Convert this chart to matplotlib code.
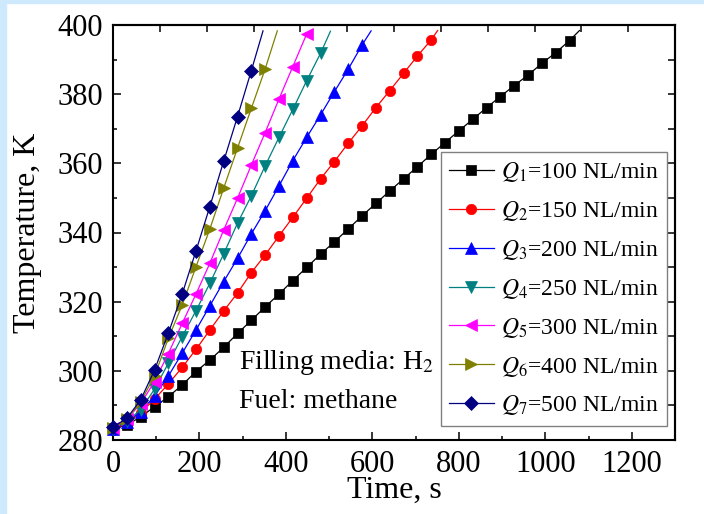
import matplotlib
matplotlib.use("Agg")
import matplotlib.pyplot as plt
from matplotlib.ticker import MultipleLocator, NullFormatter

plt.rcParams['font.family'] = ['Liberation Serif', 'DejaVu Serif']
plt.rcParams['mathtext.fontset'] = 'stix'

# sampling times (s)
time_s = [0, 32, 64, 96, 128, 160, 192, 224, 256, 288, 320, 352, 384, 416, 448,
          480, 512, 544, 576, 608, 640, 672, 704, 736, 768, 800, 832, 864, 896,
          928, 960, 992, 1024, 1056]

labels = ["$Q_1$=100 NL/min", "$Q_2$=150 NL/min", "$Q_3$=200 NL/min",
          "$Q_4$=250 NL/min", "$Q_5$=300 NL/min", "$Q_6$=400 NL/min",
          "$Q_7$=500 NL/min"]

q1 = [283.4, 284.3, 286.7, 289.6, 292.5, 295.9, 299.8, 303.1, 306.8, 310.8, 314.6,
      318.5, 322.2, 326.1, 329.9, 333.7, 337.3, 341.0, 344.8, 348.4, 352.0, 355.5,
      359.0, 362.6, 366.0, 369.4, 372.7, 376.1, 379.3, 382.5, 385.5, 388.9, 392.0,
      395.5]
q2 = [283.0, 284.8, 287.9, 291.8, 296.2, 301.0, 306.2, 311.8, 317.3, 322.5, 328.4,
      333.5, 339.0, 344.4, 349.9, 355.5, 360.5, 365.8, 370.8, 376.1, 381.0, 386.0,
      391.0, 395.7]
q3 = [283.2, 285.2, 288.2, 292.7, 298.5, 305.1, 311.8, 318.8, 325.8, 332.5, 339.6,
      346.3, 353.5, 360.8, 367.5, 374.0, 380.7, 387.2, 394.2]
q4 = [283.3, 285.5, 288.7, 294.7, 302.2, 309.9, 317.4, 325.3, 333.8, 342.7, 350.6,
      359.3, 367.5, 375.6, 383.9, 391.8]
q5 = [283.5, 286.0, 290.5, 296.9, 305.0, 313.7, 322.2, 331.1, 340.7, 349.9, 359.5,
      368.9, 378.6, 388.0, 397.4]
q6 = [283.5, 286.0, 291.0, 298.5, 309.4, 319.0, 330.1, 341.0, 352.8, 364.4, 375.9,
      387.3]
q7 = [283.7, 286.3, 291.6, 300.2, 310.9, 322.2, 334.7, 347.5, 360.6, 373.5, 386.8]

# final (unmarked) line points for each series
tail_time = [1079, 751, 597, 503, None, 380, 347]
tail_temp = [398.4, 398.4, 398.3, 398.2, None, 398.3, 398.3]

series = [q1, q2, q3, q4, q5, q6, q7]
colors = ['#000000', '#ff0000', '#0000ff', '#008080', '#ff00ff', '#808000', '#000080']
markers = ['s', 'o', '^', 'v', '<', '>', 'D']
msizes = [7, 7.5, 9, 9, 9, 9, 7.5]

fig = plt.figure(figsize=(7.04, 5.14), dpi=100)
fig.patch.set_facecolor('white')
# light blue border strips (left and top)
fig.patches.append(plt.Rectangle((0, 0), 6 / 704, 1, transform=fig.transFigure,
                                 color='#cde9fb', zorder=0))
fig.patches.append(plt.Rectangle((0, 1 - 3 / 514), 1, 3 / 514, transform=fig.transFigure,
                                 color='#cde9fb', zorder=0))

ax = fig.add_axes([113 / 704, 1 - 440 / 514, (675 - 113) / 704, (440 - 25) / 514])

for k, temps in enumerate(series):
    n = len(temps)
    xs = list(time_s[:n])
    ys = list(temps)
    if tail_time[k] is not None:
        xs.append(tail_time[k])
        ys.append(tail_temp[k])
    ax.plot(xs, ys, color=colors[k], lw=0.9, marker=markers[k], ms=msizes[k],
            markevery=list(range(n)), markeredgewidth=0.5, markeredgecolor=colors[k],
            label=labels[k], clip_on=False, zorder=3)

ax.set_xlim(0, 1300)
ax.set_ylim(280, 400)
ax.xaxis.set_major_locator(MultipleLocator(200))
ax.xaxis.set_minor_locator(MultipleLocator(100))
ax.yaxis.set_major_locator(MultipleLocator(20))
ax.yaxis.set_minor_locator(MultipleLocator(10))
ax.tick_params(which='both', direction='in', width=1.1, labelsize=22)
ax.tick_params(which='major', length=5.5)
ax.tick_params(which='minor', length=3)
ax.tick_params(axis='x', pad=7)
ax.tick_params(axis='y', pad=7)
for s in ax.spines.values():
    s.set_linewidth(1.5)

# top axis (independent scale as in the original) and right axis ticks
top = ax.secondary_xaxis('top', functions=(lambda x: x * 1200 / 1300,
                                           lambda x: x * 1300 / 1200))
top.xaxis.set_major_locator(MultipleLocator(100))
top.xaxis.set_major_formatter(NullFormatter())
top.tick_params(direction='in', length=5, width=1.1)
top.spines['top'].set_linewidth(1.5)
right = ax.secondary_yaxis('right')
right.yaxis.set_major_locator(MultipleLocator(10))
right.yaxis.set_major_formatter(NullFormatter())
right.tick_params(direction='in', length=5, width=1.1)
right.spines['right'].set_linewidth(1.5)

ax.set_xlabel("Time, s", fontsize=23, labelpad=-2)
ax.set_ylabel("Temperature, K", fontsize=23, labelpad=11)

ax.text(0.225, 0.17, "Filling media: H$_2$", transform=ax.transAxes, fontsize=20)
ax.text(0.225, 0.077, "Fuel: methane", transform=ax.transAxes, fontsize=20)

leg = ax.legend(loc='lower right', bbox_to_anchor=(0.985, 0.0345), borderaxespad=0,
                fontsize=17, frameon=True, fancybox=False, framealpha=1,
                edgecolor='#808080', handlelength=1.9, handletextpad=0.3,
                labelspacing=0.63, borderpad=0.35)
leg.get_frame().set_linewidth(1.0)

fig.savefig("out.png", dpi=100)
